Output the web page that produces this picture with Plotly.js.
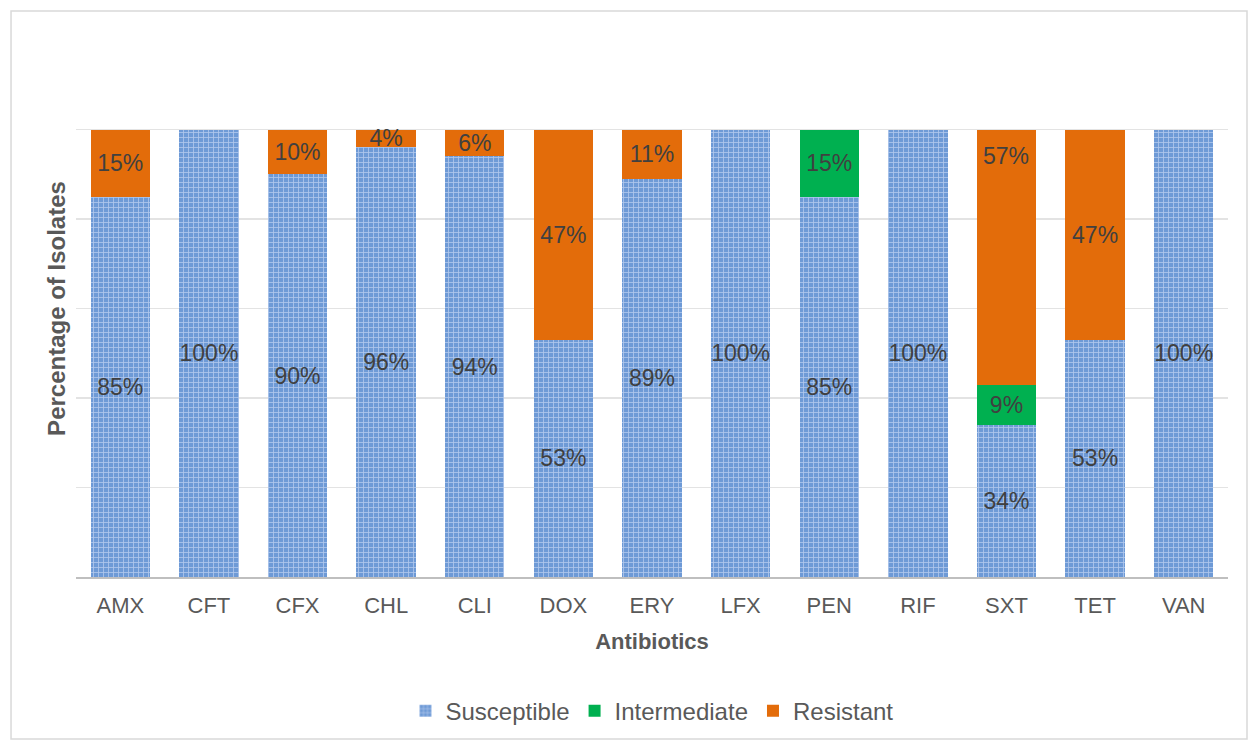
<!DOCTYPE html>
<html><head><meta charset="utf-8">
<script src="https://cdn.plot.ly/plotly-3.0.1.min.js"></script>
<style>html,body{margin:0;padding:0;background:#fff}</style>
</head><body><div id="chart" style="width:1248px;height:740px"></div>
<script>
const categories = ['AMX','CFT','CFX','CHL','CLI','DOX','ERY','LFX','PEN','RIF','SXT','TET','VAN'];
const susceptible = [85,100,90,96,94,53,89,100,85,100,34,53,100];
const intermediate = [0,0,0,0,0,0,0,0,15,0,9,0,0];
const resistant = [15,0,10,4,6,47,11,0,0,0,57,47,0];

const FONT = 'Liberation Sans, Arial, sans-serif';
const txtFont = {family:FONT, size:23, color:'#404040'};

// SXT resistant label sits near the top of its segment in the reference
const topLabelIdx = categories.indexOf('SXT');
const lbl = (a, skip) => a.map((v, i) => (v > 0 && i !== skip) ? v + '%' : '');

const mk = (name, vals, marker, skip) => ({
  type:'bar', name, x:categories, y:vals, text:lbl(vals, skip),
  textposition:'inside', insidetextanchor:'middle', textangle:0,
  insidetextfont:txtFont, constraintext:'none',
  marker, hoverinfo:'skip'
});

const data = [
  mk('Susceptible', susceptible, {color:'#6f9bd6', line:{width:0},
     pattern:{shape:'+', bgcolor:'#6e9ad6', fgcolor:'#b0c8ec', size:5, solidity:0.3}}, -1),
  mk('Intermediate', intermediate, {color:'#00b050', line:{width:0}}, -1),
  mk('Resistant', resistant, {color:'#e36c0a', line:{width:0}}, topLabelIdx)
];

const sxtTop = susceptible[topLabelIdx] + intermediate[topLabelIdx] + resistant[topLabelIdx];

const layout = {
  width:1248, height:740,
  margin:{l:76, r:20, t:40, b:163},
  barmode:'stack', bargap:0.33,
  paper_bgcolor:'#fff', plot_bgcolor:'#fff',
  font:{family:FONT, size:22, color:'#595959'},
  showlegend:true,
  legend:{orientation:'h', x:0.5, xanchor:'center', xref:'paper', yref:'container', y:0.039, yanchor:'middle',
    font:{size:24, color:'#595959'}, traceorder:'normal'},
  xaxis:{automargin:false, tickfont:{size:22, color:'#595959'}, showline:true, linecolor:'#bfbfbf', linewidth:1.5,
    ticks:'', ticklabelstandoff:8,
    title:{text:'<b>Antibiotics</b>', font:{size:22, color:'#595959'}, standoff:16}},
  yaxis:{automargin:false, range:[0,120], dtick:20, showticklabels:false, gridcolor:'#e3e3e3', gridwidth:1.5,
    zeroline:false, fixedrange:true,
    title:{text:'<b>Percentage of Isolates</b>', font:{size:24, color:'#595959'}, standoff:2}},
  annotations:[{x:categories[topLabelIdx], y:sxtTop - 6, xref:'x', yref:'y',
    text:resistant[topLabelIdx] + '%', showarrow:false, font:txtFont}],
  shapes:[{type:'rect', xref:'paper', yref:'paper', x0:-0.0564, x1:1.0165, y0:-0.3017, y1:1.054,
    line:{color:'#d9d9d9', width:1.5}, fillcolor:'rgba(0,0,0,0)', layer:'below'}]
};
Plotly.newPlot('chart', data, layout, {displayModeBar:false, staticPlot:true});
</script></body></html>
